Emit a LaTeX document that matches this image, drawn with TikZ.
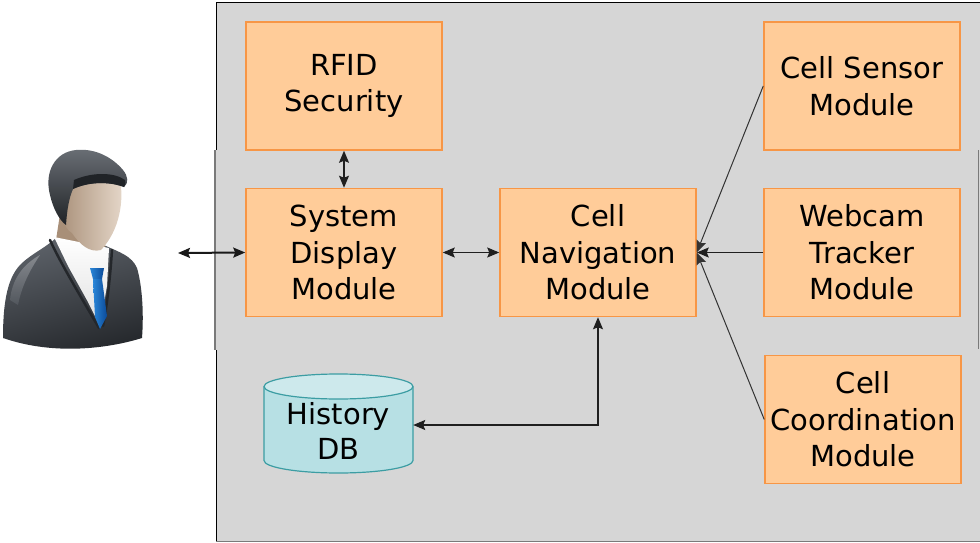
\documentclass[tikz,border=0pt]{standalone}
\usepackage{fontspec}
\setmainfont{DejaVu Sans}
\usetikzlibrary{arrows.meta,calc}

\definecolor{panel}{HTML}{D6D6D6}
\definecolor{paneledge}{HTML}{7A7A7A}
\definecolor{boxfill}{HTML}{FFCC99}
\definecolor{boxline}{HTML}{F79646}
\definecolor{dbfill}{HTML}{B7E0E4}
\definecolor{dbtop}{HTML}{CDE9EC}
\definecolor{dbline}{HTML}{3C9DA3}
\definecolor{suitlight}{HTML}{5C6168}
\definecolor{suitdark}{HTML}{24272B}
\definecolor{skinlight}{HTML}{E6D8CA}
\definecolor{skindark}{HTML}{A88F78}
\definecolor{hairlight}{HTML}{6A6F75}
\definecolor{hairdark}{HTML}{202327}
\definecolor{tielight}{HTML}{2A86D8}
\definecolor{tiedark}{HTML}{0B4A98}

\tikzset{
  module/.style={draw=boxline, line width=1.5pt, fill=boxfill,
    minimum width=196pt, minimum height=128pt, inner sep=0pt,
    align=center, font=\fontsize{29pt}{36.5pt}\selectfont},
  link/.style={draw=black!88, line width=1.2pt},
  boldlink/.style={draw=black!90, line width=2pt},
  thinlink/.style={draw=black!80, line width=1pt},
  both/.style={{Stealth[length=12pt,width=10pt,inset=2pt]}-{Stealth[length=12pt,width=10pt,inset=2pt]}},
  into/.style={-{Stealth[length=12pt,width=10pt,inset=2pt]}},
}

\begin{document}
\begin{tikzpicture}[x=1pt,y=-1pt]
\useasboundingbox (0,0) rectangle (980,543);

% system panel
\fill[panel] (216,2) rectangle (980,541);
\draw[black, line width=1.5pt] (216.5,150) -- (216.5,2.5) -- (980,2.5);
\draw[black, line width=1.5pt] (216.5,350) -- (216.5,541);
\draw[paneledge, line width=1.5pt] (215,150) -- (215,350);
\draw[paneledge, line width=1pt] (978.5,150) -- (978.5,349);
\draw[paneledge, line width=1pt] (216,541.5) -- (980,541.5);

% modules
\node[module] (rfid)   at (344,86)    {RFID\\Security};
\node[module] (sys)    at (344,252.5) {System\\Display\\Module};
\node[module] (nav)    at (598,252.5) {Cell\\Navigation\\Module};
\node[module] (sensor) at (862,86)    {Cell Sensor\\Module};
\node[module] (webcam) at (862,252.5) {Webcam\\Tracker\\Module};
\node[module] (coord)  at (863,419.5) {Cell\\Coordination\\Module};

% history database (cylinder)
\node[minimum width=149pt, minimum height=99pt, inner sep=0pt] (db) at (338.5,425) {};
\fill[dbfill] (264,386.5) -- (264,460.5)
  arc[start angle=180, end angle=0, x radius=74.5, y radius=12.5]
  -- (413,386.5) -- cycle;
\draw[dbline, line width=1.2pt] (264,386.5) -- (264,460.5)
  arc[start angle=180, end angle=0, x radius=74.5, y radius=12.5]
  -- (413,386.5);
\draw[dbline, line width=1.2pt, fill=dbtop] (338.5,386.5) ellipse[x radius=74.5, y radius=12.5];
\node[align=center, font=\fontsize{29pt}{35pt}\selectfont, inner sep=0pt] (dbtext) at (338.5,430.5) {History\\DB};

% user figure
\coordinate (userport) at (178,253);
\begin{scope}
  % suit
  \shade[top color=suitlight, bottom color=suitdark, shading angle=15]
    (3,338) .. controls (3,300) and (8,276) .. (22,263)
    .. controls (33,253) and (45,248) .. (56,238)
    -- (106,246) .. controls (119,252) and (132,256) .. (137,268)
    .. controls (142,285) and (144,312) .. (142,338)
    .. controls (110,348) and (55,356) .. (3,338) -- cycle;
  % shoulder highlight
  \shade[top color=white!45!suitlight, bottom color=suitlight, opacity=0.6]
    (10,300) .. controls (12,280) and (22,265) .. (40,255)
    .. controls (30,270) and (22,285) .. (18,305) -- cycle;
  % neck
  \fill[skindark] (60,214) -- (102,222) -- (106,252) -- (56,240) -- cycle;
  % shirt
  \shade[top color=white, bottom color=black!12]
    (54,237) -- (109,248) -- (107,286) -- (100,326) -- (88,302) -- (68,266) -- cycle;
  % lapels
  \draw[suitdark, line width=2.5pt, line cap=round] (50,240) .. controls (60,262) and (78,292) .. (99,328);
  \draw[suitdark, line width=2.5pt, line cap=round] (112,250) .. controls (110,280) and (107,305) .. (103,326);
  % tie
  \shade[left color=tielight, right color=tiedark]
    (90,268) -- (104,268) -- (102,279) -- (93,279) -- cycle;
  \shade[left color=tielight, right color=tiedark]
    (93,279) -- (102,279) -- (107,316) -- (100,329) -- (95,317) -- cycle;
  % face
  \shade[left color=skindark, right color=skinlight]
    (63,185) .. controls (83,178) and (105,176) .. (120,180)
    .. controls (124,200) and (120,230) .. (101,250)
    .. controls (90,253) and (80,245) .. (72,233)
    .. controls (62,228) and (58,205) .. (63,185) -- cycle;
  % hair
  \shade[top color=hairlight, bottom color=hairdark]
    (50,195) .. controls (44,172) and (55,152) .. (76,150)
    .. controls (96,148) and (113,158) .. (123,170)
    .. controls (128,176) and (129,183) .. (124,187)
    .. controls (108,181) and (88,182) .. (73,189)
    .. controls (69,198) and (67,210) .. (66,225)
    .. controls (59,220) and (53,208) .. (50,195) -- cycle;
  \fill[hairdark] (74,180) .. controls (92,172) and (114,172) .. (125,180)
    .. controls (126,184) and (125,186) .. (124,187)
    .. controls (108,181) and (88,182) .. (73,189) -- cycle;
\end{scope}

% connectors
\draw[boldlink, both] (userport) -- (sys.west);
\draw[link, both] (sys.north) -- (rfid.south);
\draw[link, both] (sys.east) -- (nav.west);
\draw[link, both] (nav.south) |- (db.east);
\draw[thinlink, into] (sensor.west) -- (nav.east);
\draw[link, into] (webcam.west) -- (nav.east);
\draw[thinlink, into] (coord.west) -- (nav.east);
\end{tikzpicture}
\end{document}
